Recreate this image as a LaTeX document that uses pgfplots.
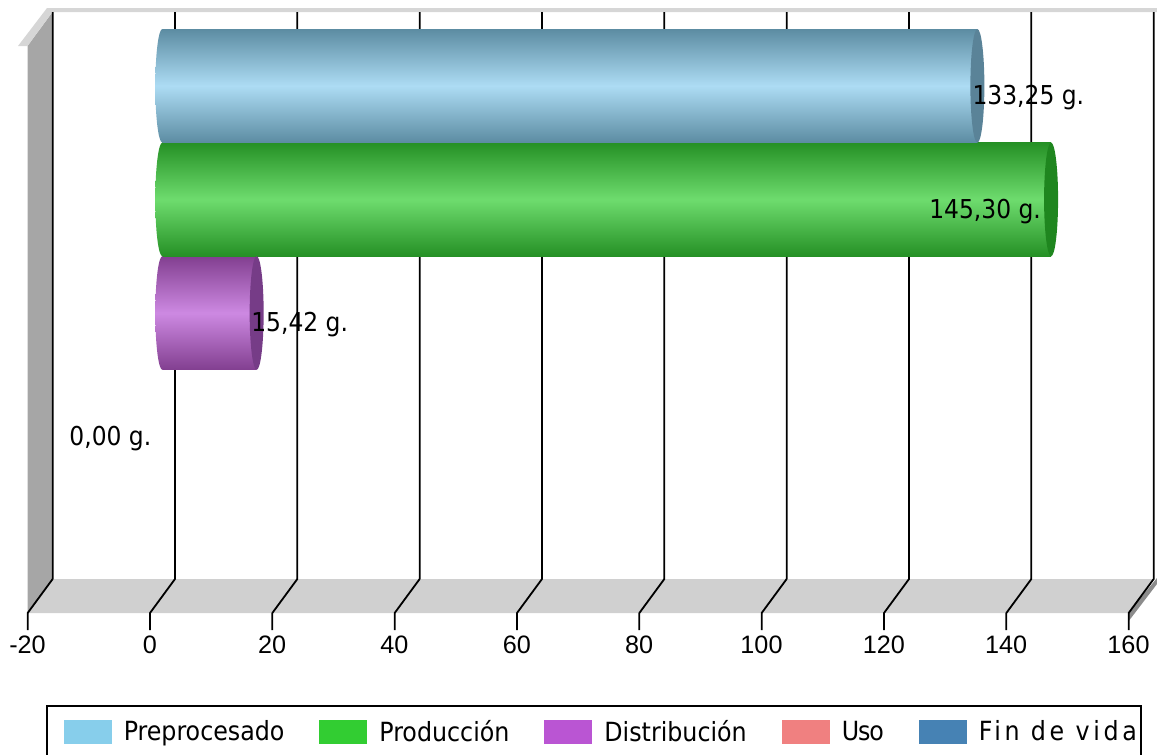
\documentclass[border=0pt]{standalone}
\usepackage{fontspec}
\setmainfont{DejaVu Sans Condensed}
\newfontfamily\tickfont{Liberation Sans}
\usepackage{pgfplots}
\pgfplotsset{compat=1.18}
\usetikzlibrary{shapes.geometric}

\definecolor{wallgray}{HTML}{A6A6A6}
\definecolor{floorgray}{HTML}{D0D0D0}
\definecolor{slabgray}{HTML}{D6D6D6}
\definecolor{rimgray}{HTML}{8C8C8C}
\definecolor{skyA}{HTML}{5C8CA2}
\definecolor{skyB}{HTML}{ADDCF4}
\definecolor{skyC}{HTML}{5A8398}
\definecolor{limeA}{HTML}{259025}
\definecolor{limeB}{HTML}{6EDC6E}
\definecolor{limeC}{HTML}{1F861F}
\definecolor{orchA}{HTML}{823F90}
\definecolor{orchB}{HTML}{CD89E2}
\definecolor{orchC}{HTML}{763C87}
\definecolor{lgSky}{HTML}{87CEEB}
\definecolor{lgLime}{HTML}{32CD32}
\definecolor{lgOrch}{HTML}{BA55D3}
\definecolor{lgCoral}{HTML}{F08080}
\definecolor{lgSteel}{HTML}{4682B4}

% One cylinder: value, category, shaded-end colours, flat-end colour
\newcommand{\cylinder}[5]{%
  \addplot[forget plot, draw=none, mark=none, nodes near coords={},
    every node near coord/.style={shape=ellipse, inner sep=0pt, anchor=center, draw=none,
      minimum width=7pt, minimum height=56.8pt, top color=#3, bottom color=#3, middle color=#4}]
    coordinates {(0,#2)};
  \addplot[forget plot, xbar, bar shift=0pt, bar width=56.8pt, draw=none,
    top color=#3, bottom color=#3, middle color=#4]
    coordinates {(#1,#2)};
  \addplot[forget plot, draw=none, mark=none, nodes near coords={},
    every node near coord/.style={shape=ellipse, inner sep=0pt, anchor=center, draw=none,
      minimum width=7pt, minimum height=56.8pt, fill=#5}]
    coordinates {(#1,#2)};
}
% Value label, offset from the end of its cylinder
\newcommand{\valuelabel}[3]{%
  \addplot[forget plot, draw=none, mark=none, point meta=explicit symbolic,
    nodes near coords,
    every node near coord/.style={anchor=center, xshift=#3, yshift=-6pt, inner sep=0pt,
      text=black, font=\fontsize{13}{14}\selectfont}]
    coordinates {#1 [#2]};
}

\begin{document}
\begin{tikzpicture}[line cap=butt]
\useasboundingbox (0pt,0pt) rectangle (578.5pt,-377.5pt);

\begin{scope}[x=0.5pt, y=-0.5pt]
% Enclosure: side wall, floor, right rim and top slab
\fill[rimgray] (1128,622) -- (1157,584) -- (1157,578) -- (1128,613) -- cycle;
\fill[wallgray] (27.5,46) -- (52.5,12) -- (52.5,579) -- (27.5,613) -- cycle;
\fill[floorgray] (27.5,613) -- (52.5,579) -- (1153.5,579) -- (1128.5,613) -- cycle;
\fill[slabgray] (18,46) -- (47,8) -- (1157,8) -- (1157,12) -- (52.5,12) -- (27.5,46) -- cycle;

% Grid lines running over the back wall, across the floor and down to the ticks
\foreach \v in {-20,0,...,160} {
  \pgfmathsetmacro{\xb}{175+\v*6.1167}
  \draw[black, line width=0.9pt, line join=round]
    (\xb,12) -- (\xb,579) -- ({\xb-25},613) -- ({\xb-25},630);
}
\end{scope}

\begin{axis}[
  at={(20pt,-298.5pt)}, anchor=south west,
  scale only axis, width=550.5pt, height=284pt,
  xmin=-20, xmax=160, ymin=-0.5, ymax=4.5, clip=false,
  axis line style={draw=none}, tick style={draw=none},
  ytick=\empty, xtick={-20,0,...,160},
  /pgf/number format/assume math mode=true,
  xticklabel style={anchor=center, xshift=-6.25pt, yshift=-24pt,
    font=\tickfont\fontsize{12.6}{12.6}\selectfont},
  legend columns=5,
  legend style={at={(0.00545,-0.190)}, anchor=north west, draw=black, line width=0.8pt,
    inner xsep=8.5pt, inner ysep=5.25pt,
    font=\fontsize{13.2}{14}\selectfont,
    /tikz/every odd column/.style={column sep=4pt},
    /tikz/every even column/.style={column sep=15.5pt}},
  legend image code/.code={\fill[#1, draw=none] (0pt,-6pt) rectangle (24pt,6pt);},
]
% Category 4 is the top row, category 0 the bottom one
\cylinder{15.42}{2}{orchA}{orchB}{orchC}
\cylinder{145.30}{3}{limeA}{limeB}{limeC}
\cylinder{133.25}{4}{skyA}{skyB}{skyC}
\valuelabel{(133.25,4)}{133,25 g.}{25.5pt}
\valuelabel{(145.30,3)}{145,30 g.}{-33pt}
\valuelabel{(15.42,2)}{15,42 g.}{21.5pt}
\valuelabel{(0,1)}{0,00 g.}{-26pt}

\addlegendimage{fill=lgSky}\addlegendentry{Preprocesado}
\addlegendimage{fill=lgLime}\addlegendentry{Producción}
\addlegendimage{fill=lgOrch}\addlegendentry{Distribución}
\addlegendimage{fill=lgCoral}\addlegendentry{\addfontfeatures{LetterSpace=-4}Uso}
\addlegendimage{fill=lgSteel}\addlegendentry{\addfontfeatures{LetterSpace=14}Fin de vida\hspace*{-8.5pt}}
\end{axis}
\end{tikzpicture}
\end{document}
